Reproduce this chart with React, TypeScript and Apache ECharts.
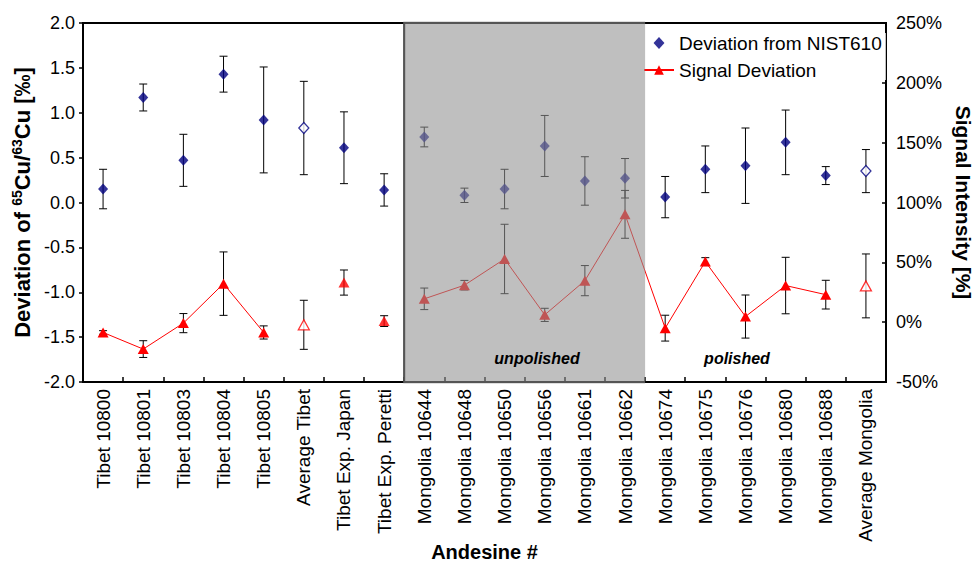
import React, { useEffect, useRef } from 'react';
import * as echarts from 'echarts';

// Samples along the x axis
const categories = [
  'Tibet 10800', 'Tibet 10801', 'Tibet 10803', 'Tibet 10804', 'Tibet 10805',
  'Average Tibet', 'Tibet Exp. Japan', 'Tibet Exp. Peretti',
  'Mongolia 10644', 'Mongolia 10648', 'Mongolia 10650', 'Mongolia 10656',
  'Mongolia 10661', 'Mongolia 10662', 'Mongolia 10674', 'Mongolia 10675',
  'Mongolia 10676', 'Mongolia 10680', 'Mongolia 10688', 'Average Mongolia',
];

// δ65Cu deviation from NIST610 (‰) and its uncertainty
const cuDeviation = [0.15, 1.17, 0.47, 1.43, 0.92, 0.83, 0.61, 0.14, 0.73, 0.08, 0.15, 0.63, 0.24, 0.27, 0.06, 0.37, 0.41, 0.67, 0.30, 0.35];
const cuError = [0.22, 0.15, 0.29, 0.20, 0.59, 0.52, 0.40, 0.18, 0.11, 0.08, 0.22, 0.34, 0.27, 0.22, 0.23, 0.26, 0.42, 0.36, 0.10, 0.24];

// Signal intensity deviation (%) and its uncertainty
const signalDeviation = [-8.6, -22.5, -0.8, 32.2, -8.6, -2.2, 33.1, 0.9, 19.5, 30.9, 52.8, 6.1, 34.7, 90.1, -5.0, 50.6, 4.7, 30.6, 23.0, 30.3];
const signalError = [1.5, 7, 8, 26.5, 5.5, 20.5, 10.5, 4.5, 9, 4, 29, 5.5, 12.6, 20, 10.8, 3.3, 18, 23.6, 12, 26.7];

// Averages are drawn with open markers; these points are not joined by the signal line
const averageIndices = [5, 19];
const unlinkedSignal = [5, 6, 7, 19];

// Unpolished sample block (first and last category index)
const unpolishedRange = [8, 13];

// Axis tick settings
const leftTicks = { min: -2, max: 2, interval: 0.5 };
const rightTicks = { min: -50, max: 250, interval: 50 };

const FONT = '"Liberation Sans", Arial, Helvetica, sans-serif';
const NAVY = '#000080';
const RED = '#ff0000';
const DIAMOND_ICON = 'path://M5,0L10,5.5L5,11L0,5.5Z';

function errorBarRenderer(params: any, api: any) {
  const x = api.value(0);
  const v = api.value(1);
  const e = api.value(2);
  const top = api.coord([x, v + e]);
  const bot = api.coord([x, v - e]);
  const cap = 4;
  const style = { stroke: '#000', lineWidth: 1 };
  return {
    type: 'group',
    children: [
      { type: 'line', shape: { x1: top[0], y1: top[1], x2: bot[0], y2: bot[1] }, style },
      { type: 'line', shape: { x1: top[0] - cap, y1: top[1], x2: top[0] + cap, y2: top[1] }, style },
      { type: 'line', shape: { x1: bot[0] - cap, y1: bot[1], x2: bot[0] + cap, y2: bot[1] }, style },
    ],
  };
}

export default function App() {
  const ref = useRef<HTMLDivElement>(null);

  useEffect(() => {
    const chart = echarts.init(ref.current!, null, { renderer: 'svg' });

    const isAvg = (i: number) => averageIndices.includes(i);

    const option: any = {
      animation: false,
      backgroundColor: '#fff',
      textStyle: { fontFamily: FONT },
      grid: {
        left: 83, right: 90, top: 23, bottom: 182,
        outerBoundsMode: 'none',
        containLabel: false,
        show: true, borderColor: '#000', borderWidth: 2, backgroundColor: 'transparent',
      },
      legend: {
        left: 643,
        top: 33,
        orient: 'vertical',
        itemWidth: 30,
        itemHeight: 12,
        itemGap: 7,
        data: [
          { name: 'Deviation from NIST610', icon: DIAMOND_ICON },
          'Signal Deviation',
        ],
        textStyle: { fontFamily: FONT, fontSize: 19, color: '#000', lineHeight: 20 },
        backgroundColor: '#fff',
        padding: [0, 4, 0, 0],
      },
      xAxis: {
        type: 'category',
        data: categories,
        boundaryGap: true,
        name: 'Andesine #',
        nameLocation: 'middle',
        nameGap: 160,
        nameMoveOverlap: false,
        nameTextStyle: { fontFamily: FONT, fontSize: 20, fontWeight: 'bold', color: '#000', lineHeight: 20 },
        axisLine: { onZero: false, lineStyle: { color: '#000', width: 2 } },
        axisTick: { show: true, inside: true, length: 5, alignWithLabel: false, lineStyle: { color: '#000', width: 1.5 } },
        axisLabel: { rotate: 90, fontSize: 19, color: '#000', fontFamily: FONT, margin: 7, interval: 0 },
        splitLine: { show: false },
      },
      yAxis: [
        {
          type: 'value',
          ...leftTicks,
          position: 'left',
          name: '{t|Deviation of }{s|65}{t|Cu/}{s|63}{t|Cu [‰]}',
          nameLocation: 'middle',
          nameRotate: 90,
          nameGap: 48,
          nameTextStyle: {
            rich: {
              t: { fontFamily: FONT, fontSize: 22, fontWeight: 'bold', color: '#000', lineHeight: 25 },
              s: { fontFamily: FONT, fontSize: 14, fontWeight: 'bold', color: '#000', lineHeight: 14, verticalAlign: 'top' },
            },
          },
          axisLine: { show: true, onZero: false, lineStyle: { color: '#000', width: 2 } },
          axisTick: { show: true, inside: false, length: 4, lineStyle: { color: '#000', width: 1.5 } },
          axisLabel: { fontSize: 18, color: '#000', fontFamily: FONT, margin: 8, formatter: (v: number) => v.toFixed(1) },
          splitLine: { show: false },
        },
        {
          type: 'value',
          ...rightTicks,
          position: 'right',
          name: 'Signal Intensity [%]',
          nameLocation: 'middle',
          nameRotate: -90,
          nameGap: 66,
          nameTextStyle: { fontFamily: FONT, fontSize: 21, fontWeight: 'bold', color: '#000' },
          axisLine: { show: true, onZero: false, lineStyle: { color: '#000', width: 2 } },
          axisTick: { show: true, inside: true, length: 4, lineStyle: { color: '#000', width: 1.5 } },
          axisLabel: { fontSize: 18, color: '#000', fontFamily: FONT, margin: 10, formatter: '{value}%' },
          splitLine: { show: false },
        },
      ],
      series: [
        {
          type: 'custom',
          name: 'cu-error',
          yAxisIndex: 0,
          silent: true,
          z: 2,
          renderItem: errorBarRenderer,
          data: cuDeviation.map((v, i) => [i, v, cuError[i]]),
        },
        {
          type: 'custom',
          name: 'signal-error',
          yAxisIndex: 1,
          silent: true,
          z: 2,
          renderItem: errorBarRenderer,
          data: signalDeviation.map((v, i) => [i, v, signalError[i]]),
        },
        {
          type: 'line',
          name: 'Signal Deviation',
          yAxisIndex: 1,
          z: 3,
          symbol: 'triangle',
          symbolSize: [11, 10],
          showAllSymbol: true,
          connectNulls: false,
          lineStyle: { color: RED, width: 1 },
          itemStyle: { color: RED },
          data: signalDeviation.map((v, i) => (unlinkedSignal.includes(i) ? '-' : v)),
        },
        {
          type: 'scatter',
          name: 'signal-separate',
          yAxisIndex: 1,
          z: 3,
          symbol: 'triangle',
          symbolSize: [11, 10],
          itemStyle: { color: RED },
          data: signalDeviation.map((v, i) => {
            if (!unlinkedSignal.includes(i)) return '-';
            return isAvg(i)
              ? { value: v, itemStyle: { color: '#fff', borderColor: RED, borderWidth: 1.3 } }
              : v;
          }),
        },
        {
          type: 'scatter',
          name: 'Deviation from NIST610',
          yAxisIndex: 0,
          z: 3,
          symbol: 'diamond',
          symbolSize: [10, 11],
          itemStyle: { color: NAVY },
          data: cuDeviation.map((v, i) =>
            isAvg(i) ? { value: v, itemStyle: { color: '#fff', borderColor: NAVY, borderWidth: 1.3 } } : v
          ),
        },
        {
          // translucent grey block over the unpolished samples
          type: 'custom',
          name: 'unpolished-block',
          yAxisIndex: 0,
          silent: true,
          z: 10,
          data: [unpolishedRange],
          renderItem: (params: any, api: any) => {
            const cs = params.coordSys;
            const band = api.size([1, 0])[0];
            const x0 = api.coord([api.value(0), 0])[0] - band / 2;
            const x1 = api.coord([api.value(1), 0])[0] + band / 2;
            return {
              type: 'group',
              children: [
                {
                  type: 'line',
                  shape: { x1: x0, y1: cs.y - 1, x2: x0, y2: cs.y + cs.height + 1 },
                  style: { stroke: '#000', lineWidth: 2 },
                },
                {
                  type: 'rect',
                  shape: { x: x0 - 1, y: cs.y - 1.5, width: x1 - x0 + 1, height: cs.height + 3 },
                  style: { fill: 'rgba(146,146,146,0.585)' },
                },
              ],
            };
          },
        },
      ],
      graphic: [
        {
          type: 'text',
          x: 537, y: 358, z: 100,
          style: { text: 'unpolished', font: `italic bold 16px ${FONT}`, fill: '#000', align: 'center', verticalAlign: 'middle' },
        },
        {
          type: 'text',
          x: 737, y: 358, z: 100,
          style: { text: 'polished', font: `italic bold 16px ${FONT}`, fill: '#000', align: 'center', verticalAlign: 'middle' },
        },
      ],
    };

    chart.setOption(option);
    return () => chart.dispose();
  }, []);

  return (
    <div
      ref={ref}
      style={{ position: 'fixed', left: 0, top: 0, width: 976, height: 564, background: '#fff' }}
    />
  );
}
